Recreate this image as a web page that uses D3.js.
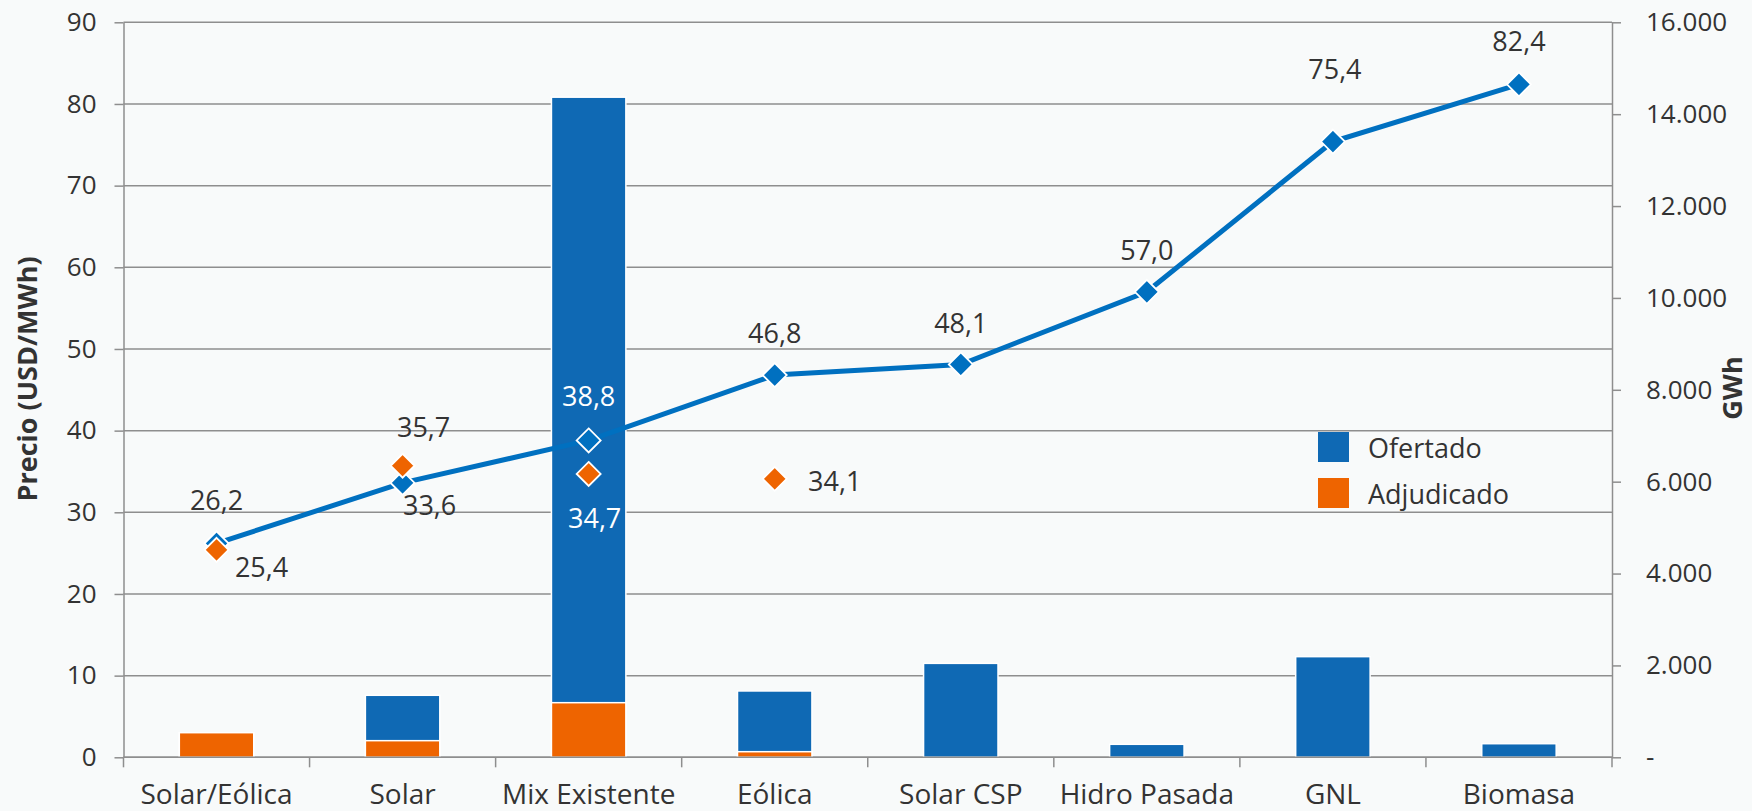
<!DOCTYPE html>
<html>
<head>
<meta charset="utf-8">
<script src="https://cdn.jsdelivr.net/npm/d3@7"></script>
<style>
  html, body { margin: 0; padding: 0; background: #f8fafa; }
  svg { display: block; font-family: "Open Sans", sans-serif; }
</style>
</head>
<body>
<svg id="chart" width="1752" height="811"></svg>
<script>
// categories and values
const categories = ["Solar/Eólica", "Solar", "Mix Existente", "Eólica", "Solar CSP", "Hidro Pasada", "GNL", "Biomasa"];
const ofertadoGWh = [536, 1350, 14370, 1444, 2045, 283, 2191, 296];
const adjudicadoGWh = [536, 362, 1189, 122, 0, 0, 0, 0];
const precioOfertado = [26.2, 33.6, 38.8, 46.8, 48.1, 57.0, 75.4, 82.4];
const precioAdjudicado = [25.4, 35.7, 34.7, 34.1, null, null, null, null];
const leftTicks = [0, 10, 20, 30, 40, 50, 60, 70, 80, 90];
const rightTicks = [0, 2000, 4000, 6000, 8000, 10000, 12000, 14000, 16000];

// label offsets from each marker (dx, dy of the text centre)
const offsetOfertado = [[0, -43], [27, 22], [0, -44], [0, -42], [0, -41], [0, -42], [2, -72], [0, -43]];
const offsetAdjudicado = [[45, 17], [21, -38], [6, 44], [60, 2]];

const blueBar = "#0f69b4", orangeBar = "#ee6400", lineBlue = "#0070c0";
const gridColor = "#8e8e8e", textColor = "#333333";

const svg = d3.select("#chart");
const plotLeft = 123.5, plotRight = 1612, plotTop = 22.3, plotBottom = 757.3;

const x = d3.scaleBand().domain(categories).range([plotLeft, plotRight]);
const yL = d3.scaleLinear().domain([0, 90]).range([plotBottom, plotTop]);
const yR = d3.scaleLinear().domain([0, 16000]).range([plotBottom, plotTop]);
const bw = x.bandwidth() * 0.4;
const cx = c => x(c) + x.bandwidth() / 2;

// gridlines
svg.append("g")
  .selectAll("line")
  .data(leftTicks)
  .join("line")
    .attr("x1", plotLeft).attr("x2", plotRight)
    .attr("y1", d => yL(d)).attr("y2", d => yL(d))
    .attr("stroke", gridColor)
    .attr("stroke-width", 1.5);

// left axis
const axL = svg.append("g")
  .attr("transform", `translate(${plotLeft},0)`)
  .call(d3.axisLeft(yL).tickValues(leftTicks).tickSize(9).tickPadding(18).tickSizeOuter(0));
axL.select(".domain").attr("stroke", gridColor).attr("stroke-width", 1.5);
axL.selectAll(".tick line").attr("stroke", gridColor).attr("stroke-width", 1.5);
axL.selectAll("text").attr("font-size", 26).attr("fill", textColor).attr("font-family", "Open Sans");

// right axis
const axR = svg.append("g")
  .attr("transform", `translate(${plotRight},0)`)
  .call(d3.axisRight(yR).tickValues(rightTicks).tickSize(9).tickPadding(25).tickSizeOuter(0)
    .tickFormat(d => d === 0 ? "-" : d3.format(",")(d).replace(/,/g, ".")));
axR.select(".domain").attr("stroke", gridColor).attr("stroke-width", 1.5);
axR.selectAll(".tick line").attr("stroke", gridColor).attr("stroke-width", 1.5);
axR.selectAll("text").attr("font-size", 26).attr("fill", textColor).attr("font-family", "Open Sans");

// bars: ofertado behind, adjudicado in front
svg.append("g")
  .selectAll("rect")
  .data(categories)
  .join("rect")
    .attr("x", c => cx(c) - bw / 2)
    .attr("width", bw)
    .attr("y", (c, i) => yR(ofertadoGWh[i]))
    .attr("height", (c, i) => plotBottom - yR(ofertadoGWh[i]))
    .attr("fill", blueBar)
    .attr("stroke", "#ffffff")
    .attr("stroke-width", 1.5);

svg.append("g")
  .selectAll("rect")
  .data(categories.filter((c, i) => adjudicadoGWh[i] > 0))
  .join("rect")
    .attr("x", c => cx(c) - bw / 2)
    .attr("width", bw)
    .attr("y", c => yR(adjudicadoGWh[categories.indexOf(c)]))
    .attr("height", c => plotBottom - yR(adjudicadoGWh[categories.indexOf(c)]))
    .attr("fill", orangeBar)
    .attr("stroke", "#ffffff")
    .attr("stroke-width", 1.5);

// bottom axis: baseline, boundary ticks, labels
svg.append("line")
  .attr("x1", plotLeft).attr("x2", plotRight)
  .attr("y1", plotBottom).attr("y2", plotBottom)
  .attr("stroke", gridColor).attr("stroke-width", 1.5);

const bounds = categories.map(c => x(c)).concat([plotRight]);
svg.append("g")
  .selectAll("line")
  .data(bounds)
  .join("line")
    .attr("x1", d => d).attr("x2", d => d)
    .attr("y1", plotBottom).attr("y2", plotBottom + 10)
    .attr("stroke", gridColor).attr("stroke-width", 1.5);

const axB = svg.append("g")
  .attr("transform", `translate(0,${plotBottom})`)
  .call(d3.axisBottom(x).tickSize(0).tickPadding(27));
axB.select(".domain").remove();
axB.selectAll("text").attr("font-size", 28).attr("fill", textColor).attr("font-family", "Open Sans");

// price line (ofertado)
const diamond = "M0,-12L12,0L0,12L-12,0Z";
svg.append("path")
  .datum(precioOfertado)
  .attr("fill", "none")
  .attr("stroke", lineBlue)
  .attr("stroke-width", 5)
  .attr("d", d3.line().x((d, i) => cx(categories[i])).y(d => yL(d)));

svg.append("g")
  .selectAll("path")
  .data(precioOfertado)
  .join("path")
    .attr("d", diamond)
    .attr("transform", (d, i) => `translate(${cx(categories[i])},${yL(d)})`)
    .attr("fill", lineBlue)
    .attr("stroke", "#ffffff")
    .attr("stroke-width", 1.8);

const adjPoints = precioAdjudicado.map((v, i) => ({ v, i })).filter(d => d.v !== null);
svg.append("g")
  .selectAll("path")
  .data(adjPoints)
  .join("path")
    .attr("d", diamond)
    .attr("transform", d => `translate(${cx(categories[d.i])},${yL(d.v)})`)
    .attr("fill", orangeBar)
    .attr("stroke", "#ffffff")
    .attr("stroke-width", 1.8);

// data labels
const fmt = v => d3.format(".1f")(v).replace(".", ",");
const onBar = i => categories[i] === "Mix Existente";

svg.append("g")
  .selectAll("text")
  .data(precioOfertado)
  .join("text")
    .attr("x", (d, i) => cx(categories[i]) + offsetOfertado[i][0])
    .attr("y", (d, i) => yL(d) + offsetOfertado[i][1])
    .attr("dy", "0.36em")
    .attr("text-anchor", "middle")
    .attr("font-size", 27)
    .attr("fill", (d, i) => onBar(i) ? "#ffffff" : textColor)
    .text(d => fmt(d));

svg.append("g")
  .selectAll("text")
  .data(adjPoints)
  .join("text")
    .attr("x", d => cx(categories[d.i]) + offsetAdjudicado[d.i][0])
    .attr("y", d => yL(d.v) + offsetAdjudicado[d.i][1])
    .attr("dy", "0.36em")
    .attr("text-anchor", "middle")
    .attr("font-size", 27)
    .attr("fill", d => onBar(d.i) ? "#ffffff" : textColor)
    .text(d => fmt(d.v));

// axis titles
svg.append("text")
  .attr("transform", "translate(27,379) rotate(-90)")
  .attr("text-anchor", "middle")
  .attr("dy", "0.36em")
  .attr("font-size", 27)
  .attr("font-weight", "bold")
  .attr("fill", textColor)
  .text("Precio (USD/MWh)");

svg.append("text")
  .attr("transform", "translate(1732,388) rotate(-90)")
  .attr("text-anchor", "middle")
  .attr("dy", "0.36em")
  .attr("font-size", 27)
  .attr("font-weight", "bold")
  .attr("fill", textColor)
  .text("GWh");

// legend
const legendItems = [["Ofertado", blueBar], ["Adjudicado", orangeBar]];
const legend = svg.append("g").attr("transform", "translate(1318,432)");
legendItems.forEach(([name, color], k) => {
  legend.append("rect")
    .attr("x", 0).attr("y", k * 46)
    .attr("width", 31).attr("height", 30)
    .attr("fill", color);
  legend.append("text")
    .attr("x", 50).attr("y", k * 46 + 16)
    .attr("dy", "0.36em")
    .attr("font-size", 27)
    .attr("fill", textColor)
    .text(name);
});
</script>
</body>
</html>
